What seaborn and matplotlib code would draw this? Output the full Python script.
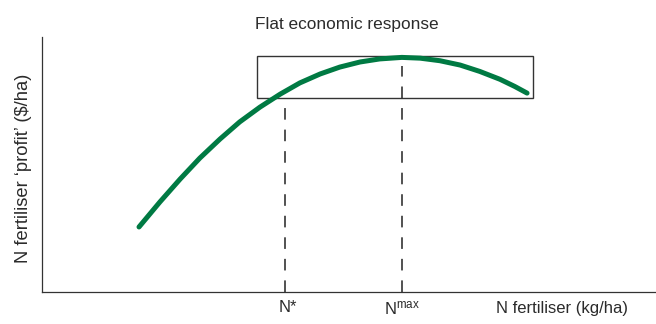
import matplotlib
matplotlib.use("Agg")
import matplotlib.pyplot as plt
import matplotlib.patches as mpatches
import seaborn as sns
import pandas as pd

# ---- data (arbitrary units: x 0-100, y 0-100) ----
n_rate = [15.8, 19.2, 22.5, 25.7, 29.0, 32.2, 35.5, 38.8, 42.0, 45.3, 48.5,
          51.8, 55.0, 58.6, 61.6, 64.8, 68.1, 71.3, 74.6, 77.0, 79.0]
profit = [25.5, 35.3, 44.3, 52.5, 60.0, 66.7, 72.5, 77.6, 82.0, 85.5, 88.2,
          90.2, 91.4, 92.0, 91.7, 90.7, 89.0, 86.5, 83.4, 80.6, 78.0]
n_star = 39.6
n_max = 58.6
flat_x = [35.0, 80.0]
flat_y = [76.1, 92.5]
n_max_dash_top = 88.6

title = "Flat economic response"
ylabel = "N fertiliser \u2018profit\u2019 ($/ha)"
xlabel = "N fertiliser (kg/ha)"
tick_labels = ["N*", "N$^{\\mathrm{max}}$"]

sns.set_theme(style="white")
plt.rcParams["font.family"] = ["Liberation Sans", "DejaVu Sans"]
plt.rcParams["mathtext.fontset"] = "custom"
plt.rcParams["mathtext.rm"] = "Liberation Sans"
plt.rcParams["mathtext.it"] = "Liberation Sans:italic"
plt.rcParams["mathtext.bf"] = "Liberation Sans:bold"

W, H = 656, 324
fig = plt.figure(figsize=(W / 100, H / 100), dpi=100)
ax = fig.add_axes([42 / W, (H - 292) / H, 614 / W, 255 / H])

df = pd.DataFrame({"N": n_rate, "profit": profit})
sns.lineplot(data=df, x="N", y="profit", ax=ax, color="#007a43", lw=3.6,
             solid_capstyle="round", solid_joinstyle="round", zorder=3, sort=False)

ax.add_patch(mpatches.Rectangle((flat_x[0], flat_y[0]), flat_x[1] - flat_x[0],
                                flat_y[1] - flat_y[0], fill=False,
                                edgecolor="#333333", lw=1.0, zorder=2))

dash = (0, (7.6, 6.5))
ax.plot([n_star, n_star], [0, flat_y[0]], color="#222222", lw=1.1, linestyle=dash, zorder=1)
ax.plot([n_max, n_max], [0, n_max_dash_top], color="#222222", lw=1.1, linestyle=dash, zorder=1)

ax.set_xlim(0, 100)
ax.set_ylim(0, 100)
ax.set_xticks([])
ax.set_yticks([])
ax.set_xlabel("")
ax.set_ylabel("")
for s in ["top", "right"]:
    ax.spines[s].set_visible(False)
for s in ["left", "bottom"]:
    ax.spines[s].set_color("#333333")
    ax.spines[s].set_linewidth(0.9)

tc = "#2b2b2b"
fig.text(347 / W, 1 - 24 / H, title, ha="center", va="center", fontsize=12.4, color=tc)
fig.text(23 / W, 1 - 168 / H, ylabel, ha="center", va="center", rotation=90,
         fontsize=13.2, color=tc)
fig.text(288 / W, 1 - 308 / H, tick_labels[0], ha="center", va="center", fontsize=12, color=tc)
fig.text(402 / W, 1 - 308 / H, tick_labels[1], ha="center", va="center", fontsize=12, color=tc)
fig.text(562 / W, 1 - 308 / H, xlabel, ha="center", va="center", fontsize=12, color=tc)

fig.savefig("out.png", dpi=100)
